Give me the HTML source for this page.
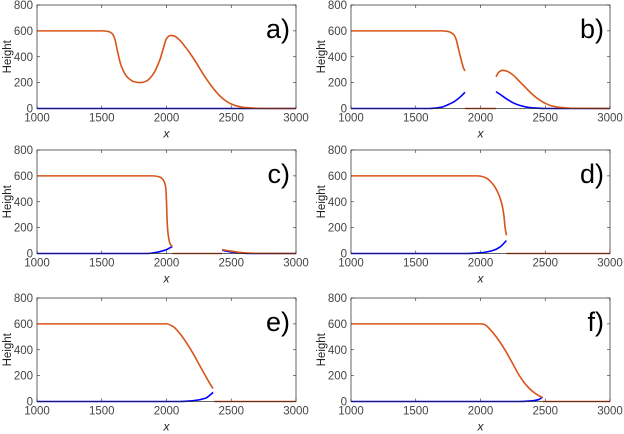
<!DOCTYPE html>
<html><head><meta charset="utf-8"><style>
html,body{margin:0;padding:0;background:#fff;}
svg{display:block;font-family:"Liberation Sans",sans-serif;}
</style></head><body>
<svg id="fig" width="624" height="434" viewBox="0 0 624 434"></svg>
<script>
const xTicks=[1000,1500,2000,2500,3000];
const yTicks=[0,200,400,600,800];
const panelLabels=["a)","b)","c)","d)","e)","f)"];
// orange (height) series segments: x values and y values
const aOrangeX=[[1000,1500,1550,1580,1600,1620,1650,1700,1750,1800,1850,1900,1950,1980,2000,2030,2060,2100,2150,2200,2250,2300,2350,2400,2450,2500,2550,2600,2700,2800,3000]];
const aOrangeY=[[600,600,595,580,540,450,330,240,207,200,215,270,380,480,540,565,560,530,470,400,320,240,170,110,65,35,18,8,2,0,0]];
const aBlueX=[[1000,3000]];
const aBlueY=[[0,0]];
const bOrangeX=[[1000,1700,1750,1790,1810,1830,1850,1870,1880],[1880,2120],[2120,2140,2170,2200,2250,2300,2350,2400,2450,2500,2550,2600,2700,3000]];
const bOrangeY=[[600,600,595,575,540,460,380,310,290],[0,0],[245,280,295,290,260,210,160,110,70,40,20,10,2,0]];
const bBlueX=[[1000,1600,1650,1700,1750,1800,1850,1880],[2120,2150,2200,2250,2300,2350,2400,2500,3000]];
const bBlueY=[[0,0,3,10,30,55,95,125],[130,110,75,45,25,12,5,0,0]];
const cOrangeX=[[1000,1900,1950,1980,1995,2000,2005,2015,2030,2045],[2045,2430],[2430,2500,2600,2700,3000]];
const cOrangeY=[[600,600,590,560,500,400,250,130,70,55],[0,0],[30,18,5,1,0]];
const cBlueX=[[1000,1850,1900,1950,2000,2045],[2430,2480,2550,2650,3000]];
const cBlueY=[[0,0,5,15,30,55],[25,15,5,0,0]];
const dOrangeX=[[1000,1980,2000,2050,2100,2130,2160,2180,2190,2200],[2200,3000]];
const dOrangeY=[[600,600,598,580,530,480,400,300,200,140],[0,0]];
const dBlueX=[[1000,1900,2000,2100,2150,2200]];
const dBlueY=[[0,0,5,25,50,100]];
const eOrangeX=[[1000,2000,2050,2100,2150,2200,2250,2300,2340,2360],[2370,3000]];
const eOrangeY=[[600,600,580,530,460,380,290,200,130,100],[0,0]];
const eBlueX=[[1000,2100,2200,2300,2360]];
const eBlueY=[[0,0,5,25,70]];
const fOrangeX=[[1000,2000,2030,2080,2150,2200,2250,2300,2350,2400,2450,2480],[2480,3000]];
const fOrangeY=[[600,600,595,550,460,380,290,200,130,80,45,30],[0,0]];
const fBlueX=[[1000,2300,2400,2450,2480]];
const fBlueY=[[0,0,5,15,35]];

const panels=[
 {ox:aOrangeX,oy:aOrangeY,bx:aBlueX,by:aBlueY},
 {ox:bOrangeX,oy:bOrangeY,bx:bBlueX,by:bBlueY},
 {ox:cOrangeX,oy:cOrangeY,bx:cBlueX,by:cBlueY},
 {ox:dOrangeX,oy:dOrangeY,bx:dBlueX,by:dBlueY},
 {ox:eOrangeX,oy:eOrangeY,bx:eBlueX,by:eBlueY},
 {ox:fOrangeX,oy:fOrangeY,bx:fBlueX,by:fBlueY}];
const lefts=[37,351], W=259, tops=[5,150,298], H=103.5;
const NS="http://www.w3.org/2000/svg";
const svg=document.getElementById('fig');
function mk(tag,attrs,parent){const e=document.createElementNS(NS,tag);for(const k in attrs)e.setAttribute(k,attrs[k]);(parent||svg).appendChild(e);return e;}
// monotone cubic (Fritsch-Carlson) in data space, returns bezier path
function monoPath(xs,ys,sx,sy){
 const n=xs.length;
 if(n<3) return "M"+xs.map((x,j)=>sx(x).toFixed(2)+","+sy(ys[j]).toFixed(2)).join("L");
 const d=[],m=[];
 for(let i=0;i<n-1;i++) d.push((ys[i+1]-ys[i])/(xs[i+1]-xs[i]));
 m[0]=d[0]; m[n-1]=d[n-2];
 for(let i=1;i<n-1;i++){
  if(d[i-1]*d[i]<=0) m[i]=0;
  else { const h0=xs[i]-xs[i-1],h1=xs[i+1]-xs[i]; const w1=2*h1+h0,w2=h1+2*h0; m[i]=(w1+w2)/(w1/d[i-1]+w2/d[i]); }
 }
 let p="M"+sx(xs[0]).toFixed(2)+","+sy(ys[0]).toFixed(2);
 for(let i=0;i<n-1;i++){
  const h=xs[i+1]-xs[i];
  const c1x=xs[i]+h/3,c1y=ys[i]+m[i]*h/3,c2x=xs[i+1]-h/3,c2y=ys[i+1]-m[i+1]*h/3;
  p+="C"+sx(c1x).toFixed(2)+","+sy(c1y).toFixed(2)+" "+sx(c2x).toFixed(2)+","+sy(c2y).toFixed(2)+" "+sx(xs[i+1]).toFixed(2)+","+sy(ys[i+1]).toFixed(2);
 }
 return p;
}
panels.forEach((p,i)=>{
 const L=lefts[i%2], T=tops[Math.floor(i/2)];
 const sx=v=>L+(v-1000)/2000*W, sy=v=>T+H-(v/800)*H;
 const g=mk('g',{});
 
 
 xTicks.forEach(t=>{
  mk('line',{x1:sx(t),x2:sx(t),y1:T+H,y2:T+H-3,stroke:'#262626','stroke-width':0.6},g);
  mk('line',{x1:sx(t),x2:sx(t),y1:T,y2:T+3,stroke:'#262626','stroke-width':0.6},g);
  const tx=mk('text',{x:sx(t),y:T+H+13,'text-anchor':'middle','font-size':11.5,fill:'#444'},g);
  tx.textContent=t;
  
  
 });
 yTicks.forEach(t=>{
  mk('line',{x1:L,x2:L+3,y1:sy(t),y2:sy(t),stroke:'#262626','stroke-width':0.6},g);
  mk('line',{x1:L+W,x2:L+W-3,y1:sy(t),y2:sy(t),stroke:'#262626','stroke-width':0.6},g);
  const tx=mk('text',{x:L-4,y:sy(t)+4,'text-anchor':'end','font-size':11.5,fill:'#444'},g);
  tx.textContent=t;
  
  
 });
 p.bx.forEach((xs,k)=>{
  const path=mk('path',{d:monoPath(xs,p.by[k],sx,sy),fill:'none',stroke:'#0000ff','stroke-width':1.6},g);
  
  
 });
 p.ox.forEach((xs,k)=>{
  const path=mk('path',{d:monoPath(xs,p.oy[k],sx,sy),fill:'none',stroke:'#d95319','stroke-width':1.6},g);
  
  
 });
 const box=mk('rect',{x:L,y:T,width:W,height:H,fill:'none',stroke:'#262626','stroke-width':0.7},g);
 
 
 const yl=mk('text',{x:0,y:0,transform:`translate(${L-26},${T+H/2}) rotate(-90)`,'text-anchor':'middle','font-size':11.5,fill:'#222'},g);
 yl.textContent='Height';
 
 
 const xl=mk('text',{x:L+W/2,y:T+H+29,'text-anchor':'middle','font-size':12,'font-style':'italic',fill:'#222'},g);
 xl.textContent='x';
 
 
 const pl=mk('text',{x:L+W-6,y:T+33,'text-anchor':'end','font-size':27,fill:'#000'},g);
 pl.textContent=panelLabels[i];
 
 
});
</script>
</body></html>
